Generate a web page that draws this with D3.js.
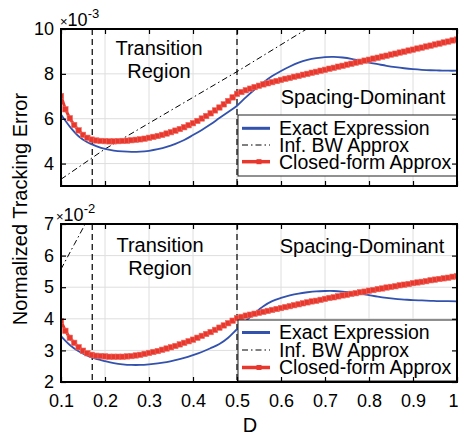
<!DOCTYPE html>
<html>
<head>
<meta charset="utf-8">
<script src="https://cdn.jsdelivr.net/npm/d3@7"></script>
<style>
  body { margin: 0; background: #fff; }
  text { font-family: "Liberation Sans", Arial, sans-serif; fill: #000; }
</style>
</head>
<body>
<svg id="chart" width="459" height="436"></svg>
<script>
// ---- data ----
const xTicks = [0.1, 0.2, 0.3, 0.4, 0.5, 0.6, 0.7, 0.8, 0.9, 1];
const regionBounds = [0.171, 0.5];

// closed-form approx, sampled every 0.01
const dRed = [0.10,0.11,0.12,0.13,0.14,0.15,0.16,0.17,0.18,0.19,
  0.20,0.21,0.22,0.23,0.24,0.25,0.26,0.27,0.28,0.29,
  0.30,0.31,0.32,0.33,0.34,0.35,0.36,0.37,0.38,0.39,
  0.40,0.41,0.42,0.43,0.44,0.45,0.46,0.47,0.48,0.49,
  0.50,0.51,0.52,0.53,0.54,0.55,0.56,0.57,0.58,0.59,
  0.60,0.61,0.62,0.63,0.64,0.65,0.66,0.67,0.68,0.69,
  0.70,0.71,0.72,0.73,0.74,0.75,0.76,0.77,0.78,0.79,
  0.80,0.81,0.82,0.83,0.84,0.85,0.86,0.87,0.88,0.89,
  0.90,0.91,0.92,0.93,0.94,0.95,0.96,0.97,0.98,0.99,1.00];
const topRed = [7.01,6.42,6.02,5.72,5.48,5.28,5.15,5.07,5.03,5.01,
  5.00,4.99,4.99,5.00,5.01,5.02,5.04,5.06,5.08,5.11,
  5.15,5.19,5.23,5.28,5.34,5.40,5.47,5.54,5.62,5.71,
  5.80,5.90,6.01,6.12,6.24,6.37,6.50,6.64,6.79,6.95,
  7.11,7.19,7.27,7.34,7.41,7.47,7.53,7.58,7.63,7.68,
  7.73,7.78,7.82,7.87,7.91,7.96,8.00,8.05,8.09,8.14,
  8.18,8.23,8.27,8.32,8.36,8.41,8.45,8.50,8.54,8.59,
  8.63,8.68,8.72,8.77,8.81,8.86,8.90,8.95,8.99,9.04,
  9.08,9.13,9.17,9.22,9.26,9.31,9.35,9.40,9.44,9.49,9.53];
const bottomRed = [3.93,3.62,3.40,3.24,3.10,2.99,2.91,2.86,2.83,2.82,
  2.81,2.80,2.80,2.80,2.80,2.81,2.82,2.84,2.86,2.89,
  2.92,2.95,2.98,3.02,3.06,3.10,3.14,3.19,3.24,3.29,
  3.34,3.40,3.46,3.52,3.58,3.65,3.72,3.79,3.86,3.94,
  4.02,4.06,4.10,4.13,4.16,4.19,4.22,4.25,4.28,4.31,
  4.34,4.37,4.40,4.43,4.46,4.49,4.52,4.55,4.57,4.60,
  4.63,4.66,4.68,4.71,4.74,4.76,4.79,4.81,4.84,4.86,
  4.89,4.91,4.94,4.96,4.99,5.01,5.03,5.06,5.08,5.10,
  5.13,5.15,5.17,5.19,5.22,5.24,5.26,5.28,5.30,5.33,5.35];

// exact expression, sampled every 0.02
const dBlue = [0.10,0.12,0.14,0.16,0.18,0.20,0.22,0.24,0.26,0.28,
  0.30,0.32,0.34,0.36,0.38,0.40,0.42,0.44,0.46,0.48,
  0.50,0.52,0.54,0.56,0.58,0.60,0.62,0.64,0.66,0.68,
  0.70,0.72,0.74,0.76,0.78,0.80,0.82,0.84,0.86,0.88,
  0.90,0.92,0.94,0.96,0.98,1.00];
const topBlue = [6.19,5.65,5.22,4.95,4.78,4.65,4.58,4.54,4.52,4.53,
  4.57,4.64,4.74,4.88,5.05,5.27,5.50,5.75,6.03,6.30,
  6.58,6.95,7.30,7.62,7.90,8.13,8.33,8.50,8.62,8.70,
  8.75,8.76,8.73,8.67,8.58,8.50,8.43,8.36,8.30,8.25,
  8.21,8.18,8.16,8.15,8.14,8.14];
const bottomBlue = [3.45,3.17,2.97,2.83,2.73,2.66,2.60,2.56,2.54,2.54,
  2.56,2.59,2.63,2.69,2.76,2.85,2.95,3.07,3.20,3.40,
  3.67,3.93,4.18,4.40,4.56,4.66,4.74,4.80,4.84,4.87,
  4.88,4.88,4.86,4.83,4.80,4.75,4.70,4.66,4.63,4.61,
  4.59,4.58,4.57,4.56,4.56,4.55];

// infinite-bandwidth approx (runs off the top, clipped)
const dInfTop = [0.1, 0.2, 0.3, 0.4, 0.5, 0.6, 0.7];
const topInf = [3.30, 4.65, 5.80, 6.95, 8.10, 9.30, 10.50];
const dInfBottom = [0.10, 0.13, 0.16];
const bottomInf = [5.57, 6.35, 7.13];

const legendLabels = ['Exact Expression', 'Inf. BW Approx', 'Closed-form Approx'];

const blue = '#3352ae';
const red = '#e8372c';

const svg = d3.select('#chart');

const x = d3.scaleLinear().domain([0.1, 1]).range([61, 457]);

const panels = [
  { id: 'top', yDomain: [3, 10], yTicks: [4, 6, 8, 10], top: 29, bottom: 186,
    red: topRed, blue: topBlue, infD: dInfTop, inf: topInf, exp: '-3',
    expPos: [60, 25.5], showX: false,
    trans: [159, 55, 78], spacing: [363, 104],
    legend: { y: 115, h: 61, rows: [128.3, 145, 161.7] } },
  { id: 'bot', yDomain: [2, 7], yTicks: [2, 3, 4, 5, 6, 7], top: 224, bottom: 382,
    red: bottomRed, blue: bottomBlue, infD: dInfBottom, inf: bottomInf, exp: '-2',
    expPos: [56, 220.7], showX: true,
    trans: [160, 252.3, 275], spacing: [362, 252.7],
    legend: { y: 320, h: 61, rows: [332.5, 350, 367.5] } },
];

panels.forEach(drawPanel);

function drawPanel(p) {
  const y = d3.scaleLinear().domain(p.yDomain).range([p.bottom, p.top]);
  const g = svg.append('g');

  svg.append('clipPath').attr('id', 'clip-' + p.id)
    .append('rect')
    .attr('x', x.range()[0]).attr('y', p.top)
    .attr('width', x.range()[1] - x.range()[0])
    .attr('height', p.bottom - p.top);

  // grid
  g.append('g').selectAll('line')
    .data(xTicks)
    .join('line')
    .attr('x1', (d) => x(d)).attr('x2', (d) => x(d))
    .attr('y1', p.top).attr('y2', p.bottom)
    .attr('stroke', '#dedede').attr('stroke-width', 1);
  g.append('g').selectAll('line')
    .data(p.yTicks)
    .join('line')
    .attr('x1', x.range()[0]).attr('x2', x.range()[1])
    .attr('y1', (d) => y(d)).attr('y2', (d) => y(d))
    .attr('stroke', '#dedede').attr('stroke-width', 1);

  const plot = g.append('g').attr('clip-path', `url(#clip-${p.id})`);

  // region boundaries
  plot.selectAll('line.bound')
    .data(regionBounds)
    .join('line')
    .attr('class', 'bound')
    .attr('x1', (d) => x(d)).attr('x2', (d) => x(d))
    .attr('y1', p.top).attr('y2', p.bottom)
    .attr('stroke', '#000').attr('stroke-width', 1.2)
    .attr('stroke-dasharray', '6,4');

  // inf BW approx
  plot.append('path')
    .datum(p.infD.map((d, i) => [d, p.inf[i]]))
    .attr('d', d3.line().x((d) => x(d[0])).y((d) => y(d[1])))
    .attr('fill', 'none').attr('stroke', '#000').attr('stroke-width', 1)
    .attr('stroke-dasharray', '6,3,1.5,3');

  // exact expression
  plot.append('path')
    .datum(dBlue.map((d, i) => [d, p.blue[i]]))
    .attr('d', d3.line().curve(d3.curveCatmullRom).x((d) => x(d[0])).y((d) => y(d[1])))
    .attr('fill', 'none').attr('stroke', blue).attr('stroke-width', 1.8);

  // closed-form approx
  const redPts = dRed.map((d, i) => [d, p.red[i]]);
  plot.append('path')
    .datum(redPts)
    .attr('d', d3.line().x((d) => x(d[0])).y((d) => y(d[1])))
    .attr('fill', 'none').attr('stroke', red).attr('stroke-width', 3);
  plot.append('g').selectAll('rect')
    .data(redPts)
    .join('rect')
    .attr('x', (d) => x(d[0]) - 2.7).attr('y', (d) => y(d[1]) - 2.7)
    .attr('width', 5.4).attr('height', 5.4)
    .attr('fill', red).attr('stroke', '#ef6a60').attr('stroke-width', 0.6);

  // annotations
  g.append('text').attr('x', p.trans[0]).attr('y', p.trans[1])
    .attr('text-anchor', 'middle').style('font-size', '20px').text('Transition');
  g.append('text').attr('x', p.trans[0]).attr('y', p.trans[2])
    .attr('text-anchor', 'middle').style('font-size', '20px').text('Region');
  g.append('text').attr('x', p.spacing[0]).attr('y', p.spacing[1])
    .attr('text-anchor', 'middle').style('font-size', '20px').text('Spacing-Dominant');

  // legend
  const L = p.legend;
  const lg = g.append('g');
  lg.append('rect')
    .attr('x', 238).attr('y', L.y).attr('width', 219).attr('height', L.h)
    .attr('fill', '#fff').attr('stroke', '#222').attr('stroke-width', 1);
  const styles = [
    { stroke: blue, w: 3, dash: null, mark: false },
    { stroke: '#000', w: 1, dash: '6,3,1.5,3', mark: false },
    { stroke: red, w: 3.5, dash: null, mark: true },
  ];
  legendLabels.forEach((label, i) => {
    const yy = L.rows[i];
    const s = styles[i];
    lg.append('line')
      .attr('x1', 242).attr('x2', 270).attr('y1', yy).attr('y2', yy)
      .attr('stroke', s.stroke).attr('stroke-width', s.w)
      .attr('stroke-dasharray', s.dash);
    if (s.mark) {
      lg.append('rect').attr('x', 256.5).attr('y', yy - 2.5)
        .attr('width', 5).attr('height', 5).attr('fill', red);
    }
    lg.append('text').attr('x', 279).attr('y', yy).attr('dy', '0.35em')
      .style('font-size', '19.5px').text(label);
  });

  // axes: ticks point inward on all four sides
  const xb = g.append('g').attr('transform', `translate(0,${p.bottom})`)
    .call(d3.axisBottom(x).tickValues(xTicks).tickSize(-5).tickPadding(12)
      .tickFormat(p.showX ? (d) => (d === 1 ? '1' : d.toFixed(1)) : ''));
  const xt = g.append('g').attr('transform', `translate(0,${p.top})`)
    .call(d3.axisTop(x).tickValues(xTicks).tickSize(-5).tickFormat(''));
  const yl = g.append('g').attr('transform', `translate(${x.range()[0]},0)`)
    .call(d3.axisLeft(y).tickValues(p.yTicks).tickSize(-5).tickPadding(7)
      .tickFormat((d) => String(d)));
  const yr = g.append('g').attr('transform', `translate(${x.range()[1]},0)`)
    .call(d3.axisRight(y).tickValues(p.yTicks).tickSize(-5).tickFormat(''));
  [xb, xt, yl, yr].forEach((a) => {
    a.select('.domain').remove();
    a.selectAll('line').attr('stroke', '#000').attr('stroke-width', 1.2);
    a.selectAll('text').style('font-size', '18px')
      .style('font-family', '"Liberation Sans", Arial, sans-serif').attr('fill', '#000');
  });
  // keep the last x label inside the picture
  xb.selectAll('.tick text').filter((d) => d === 1).attr('dx', -4);

  g.append('rect')
    .attr('x', x.range()[0]).attr('y', p.top)
    .attr('width', x.range()[1] - x.range()[0]).attr('height', p.bottom - p.top)
    .attr('fill', 'none').attr('stroke', '#000').attr('stroke-width', 2);

  // x10^n multiplier
  const ex = g.append('text').attr('x', p.expPos[0]).attr('y', p.expPos[1]);
  ex.append('tspan').style('font-size', '13px').text('\u00d7');
  ex.append('tspan').style('font-size', '18px').text('10');
  ex.append('tspan').style('font-size', '13px').attr('dy', -8).text(p.exp);
}

// axis titles
svg.append('text')
  .attr('transform', 'translate(26.5,209) rotate(-90)')
  .attr('text-anchor', 'middle').style('font-size', '20px')
  .text('Normalized Tracking Error');
svg.append('text')
  .attr('x', 250).attr('y', 432)
  .attr('text-anchor', 'middle').style('font-size', '20px')
  .text('D');
</script>
</body>
</html>
